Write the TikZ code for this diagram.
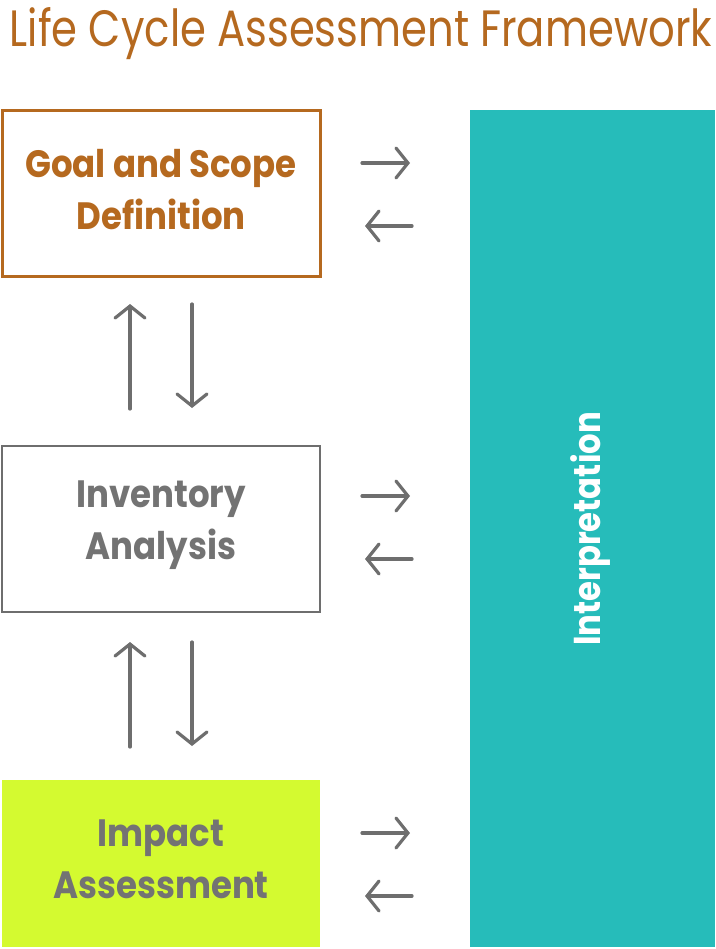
\documentclass[tikz,border=0pt]{standalone}
\usepackage{fontspec}
\setmainfont{Poppins}
\usetikzlibrary{arrows.meta}
\definecolor{rust}{HTML}{B5691F}
\definecolor{arrowgray}{HTML}{6E6E6E}
\definecolor{textgray}{HTML}{737373}
\definecolor{lime}{HTML}{D4FA30}
\definecolor{teal}{HTML}{26BCBA}
\newcommand{\tallline}[1]{\scalebox{1}[1.12]{#1}}
\tikzset{
  x=1pt,y=-1pt,
  boxtext/.style={font=\fontsize{34}{52}\selectfont\bfseries, align=center},
  flow/.style={draw=arrowgray, line width=3.2pt, line cap=round,
    -{Straight Barb[length=12pt,width=30pt,line cap=round]}},
}
\begin{document}
\begin{tikzpicture}
\useasboundingbox (0,0) rectangle (715,949);
% title
\node[text=rust, anchor=base, inner sep=0pt] (title) at (361,47) {\resizebox{702pt}{39pt}{Life Cycle Assessment Framework}};
% boxes
\node[draw=rust, line width=3pt, minimum width=318pt, minimum height=166pt, inner sep=0pt] (goal) at (161,194) {};
\node[boxtext, text=rust] (goaltext) at (161,190) {\tallline{Goal and Scope}\\\tallline{Definition}};
\node[draw=arrowgray, line width=2.6pt, minimum width=318pt, minimum height=166pt, inner sep=0pt] (inv) at (161,529) {};
\node[boxtext, text=textgray] (invtext) at (161,525) {\tallline{Inventory}\\\tallline{Analysis}};
\node[fill=lime, minimum width=318pt, minimum height=167pt, inner sep=0pt] (imp) at (161,863.5) {};
\node[boxtext, text=textgray] (imptext) at (161,859) {\tallline{Impact}\\\tallline{Assessment}};
\node[fill=teal, minimum width=245pt, minimum height=837pt, inner sep=0pt] (interp) at (592.5,528.5) {};
\node[text=white, font=\fontsize{34}{36}\selectfont\bfseries, rotate=90] (interptext) at (590,529) {\scalebox{0.95}[1.1]{Interpretation}};
% horizontal arrow coordinates
\foreach \n/\y in {a/163, b/496, c/833} {
  \coordinate (r\n s) at (362,\y); \coordinate (r\n e) at (410,\y);
}
\foreach \n/\y in {a/226, b/559, c/896} {
  \coordinate (l\n s) at (412,\y); \coordinate (l\n e) at (365,\y);
}
\draw[flow] (ras) -- (rae);
\draw[flow] (las) -- (lae);
\draw[flow] (rbs) -- (rbe);
\draw[flow] (lbs) -- (lbe);
\draw[flow] (rcs) -- (rce);
\draw[flow] (lcs) -- (lce);
% vertical arrows
\coordinate (u1s) at (130,409); \coordinate (u1e) at (130,304);
\coordinate (d1s) at (192,304); \coordinate (d1e) at (192,408);
\coordinate (u2s) at (130,747); \coordinate (u2e) at (130,642);
\coordinate (d2s) at (192,642); \coordinate (d2e) at (192,746);
\draw[flow] (u1s) -- (u1e);
\draw[flow] (d1s) -- (d1e);
\draw[flow] (u2s) -- (u2e);
\draw[flow] (d2s) -- (d2e);
\end{tikzpicture}
\end{document}
